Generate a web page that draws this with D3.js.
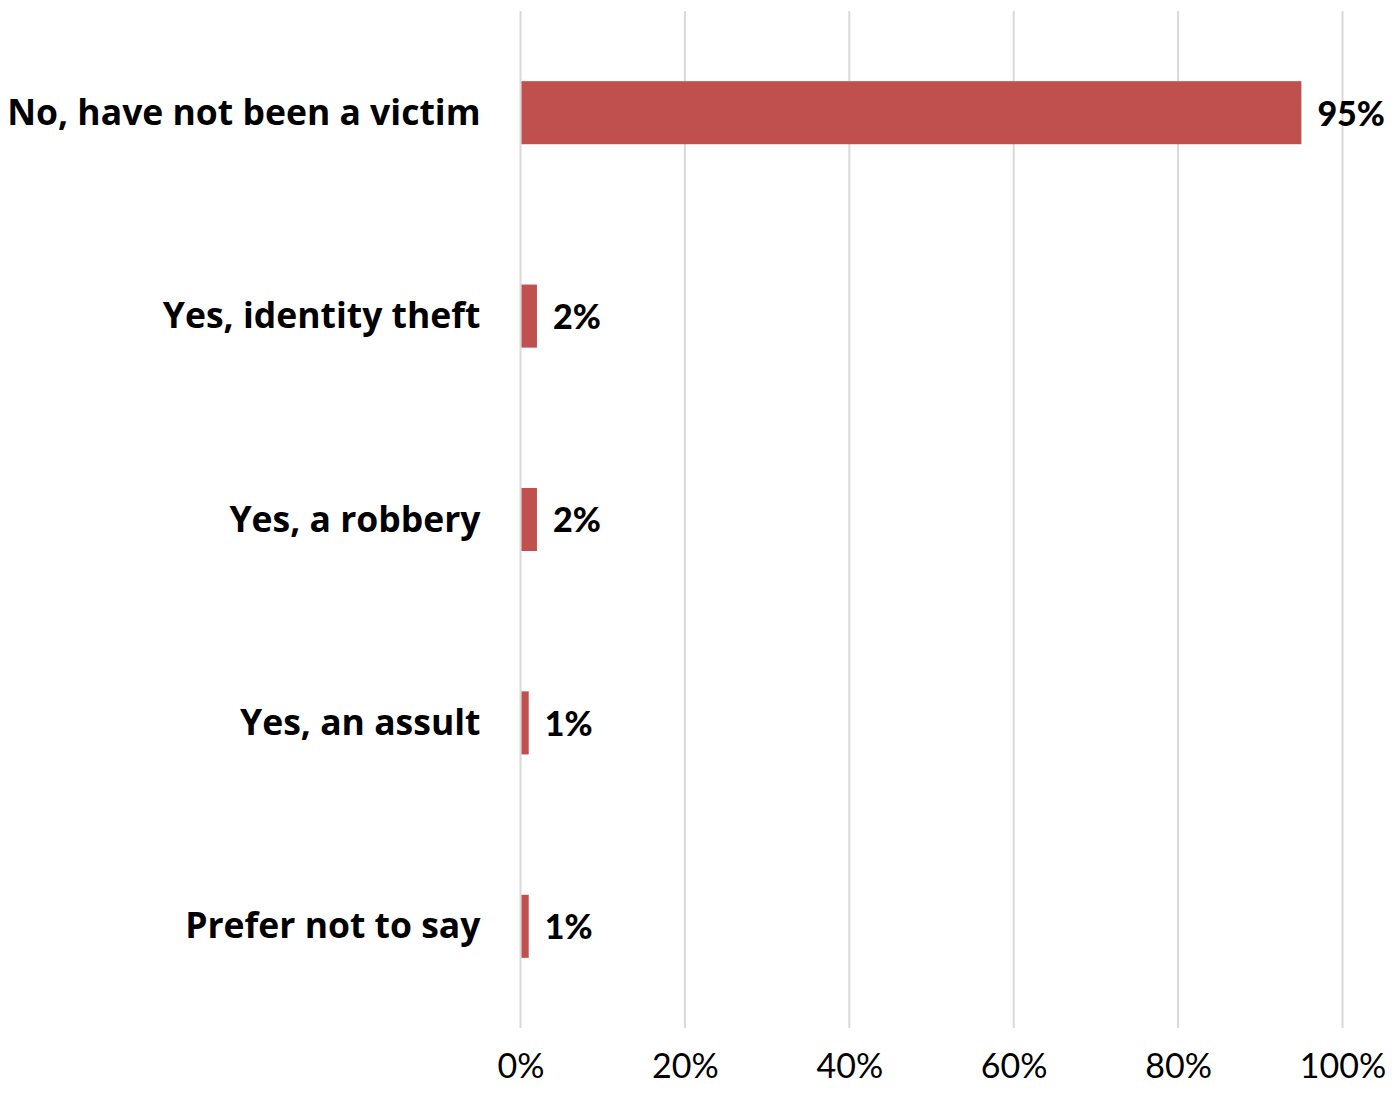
<!DOCTYPE html>
<html><head><meta charset="utf-8">
<script src="https://cdn.jsdelivr.net/npm/d3@7"></script>
<style>body{margin:0;background:#fff}svg{display:block}</style>
</head><body>
<svg id="chart" width="1400" height="1096"></svg>
<script>
const categories = ["No, have not been a victim","Yes, identity theft","Yes, a robbery","Yes, an assult","Prefer not to say"];
const values = [95, 2, 2, 1, 1];
const valueLabels = ["95%","2%","2%","1%","1%"];
const ticks = [0,20,40,60,80,100];
const tickLabels = ["0%","20%","40%","60%","80%","100%"];

const svg = d3.select("#chart");
const font = "Lato, 'Open Sans', sans-serif";
const catFont = "'Open Sans', Lato, sans-serif";
const x = d3.scaleLinear().domain([0,100]).range([520.5,1342.5]);
const y = d3.scaleBand().domain(categories).range([11,1028]).paddingInner(0.69).paddingOuter(0.345);

// gridlines
svg.append("g").selectAll("line").data(ticks).join("line")
  .attr("x1",d=>x(d)).attr("x2",d=>x(d)).attr("y1",11).attr("y2",1028)
  .attr("stroke","#d9d9d9").attr("stroke-width",2);

// bars
svg.append("g").selectAll("rect").data(values).join("rect")
  .attr("x",x(0)+1).attr("y",(d,i)=>y(categories[i]))
  .attr("width",d=>x(d)-x(0)-1).attr("height",y.bandwidth())
  .attr("fill","#c0504d");

// value labels
svg.append("g").selectAll("text").data(values).join("text")
  .attr("x",d=>x(d)+16).attr("y",(d,i)=>y(categories[i])+y.bandwidth()/2)
  .attr("dy","0.38em")
  .attr("font-family",font).attr("font-weight","900").attr("font-size",34)
  .attr("fill","#000").text((d,i)=>valueLabels[i]);

// category labels
const yAxis = d3.axisLeft(y).tickSize(0).tickPadding(40);
const ga = svg.append("g").attr("transform",`translate(${x(0)},0)`).call(yAxis);
ga.select(".domain").remove();
ga.selectAll("text").attr("font-family",catFont).attr("font-weight","bold").attr("font-size",35.5)
  .attr("fill","#000").attr("dy","0.34em");

// x axis
const xAxis = d3.axisBottom(x).tickValues(ticks).tickFormat((d,i)=>tickLabels[i]).tickSize(0).tickPadding(0);
const gx = svg.append("g").attr("transform","translate(0,1054)").call(xAxis);
gx.select(".domain").remove();
gx.selectAll("text").attr("font-family",font).attr("font-size",34).attr("fill","#000").attr("dy","0.71em");
</script>
</body></html>
